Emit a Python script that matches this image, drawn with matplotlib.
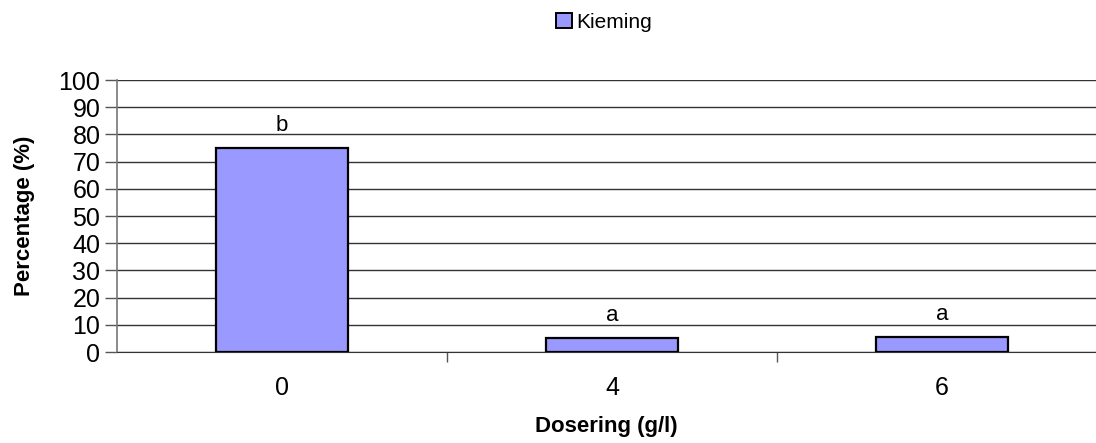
import matplotlib.pyplot as plt
from matplotlib.patches import Patch

# Data
dosering = ['0', '4', '6']
kieming = [75, 5, 5.5]
letters = ['b', 'a', 'a']

plt.rcParams['font.family'] = ['Liberation Sans', 'DejaVu Sans']

fig = plt.figure(figsize=(10.96, 4.43), dpi=100)
# right edge of the plot area runs slightly past the image border, as in the original
ax = fig.add_axes([0.1068, 0.2054, 0.9033, 0.614])

bar_color = '#9999ff'
x = range(len(dosering))
ax.bar(x, kieming, width=0.4, color=bar_color, edgecolor='black', linewidth=1.6, zorder=3)

for xi, v, lab in zip(x, kieming, letters):
    ax.text(xi, v + 4.5, lab, ha='center', va='bottom', fontsize=16)

ax.set_xlim(-0.5, 2.5)
ax.set_ylim(0, 100)
ax.set_yticks(range(0, 101, 10))
ax.tick_params(axis='y', labelsize=18, length=9, width=1, color='#555555', direction='out', pad=3)

# category boundaries carry the x ticks, labels sit in the middle
ax.set_xticks([0.5, 1.5])
ax.set_xticklabels([])
ax.tick_params(axis='x', length=7, width=1, color='#555555', direction='out')
for xi, lab in zip(x, dosering):
    ax.text(xi, -0.09, lab, transform=ax.get_xaxis_transform(), ha='center', va='top', fontsize=18)

ax.yaxis.grid(True, color='#333333', linewidth=1)
ax.set_axisbelow(True)
for s in ['top', 'right']:
    ax.spines[s].set_visible(False)
ax.spines['left'].set_color('#777777')
ax.spines['left'].set_linewidth(1.2)
ax.spines['bottom'].set_color('#333333')

ax.set_ylabel('Percentage (%)', fontsize=16, fontweight='bold')
ax.yaxis.set_label_coords(-0.083, 0.5)
ax.set_xlabel('Dosering (g/l)', fontsize=16, fontweight='bold')
ax.xaxis.set_label_coords(0.5 - 0.006, -0.235)

handle = Patch(facecolor=bar_color, edgecolor='black', linewidth=1.4)
fig.legend([handle], ['Kieming'], loc='center', bbox_to_anchor=(0.551, 0.95), frameon=False,
           fontsize=15, handlelength=0.75, handleheight=0.75, handletextpad=0.2)

fig.savefig('out.png', dpi=100)
